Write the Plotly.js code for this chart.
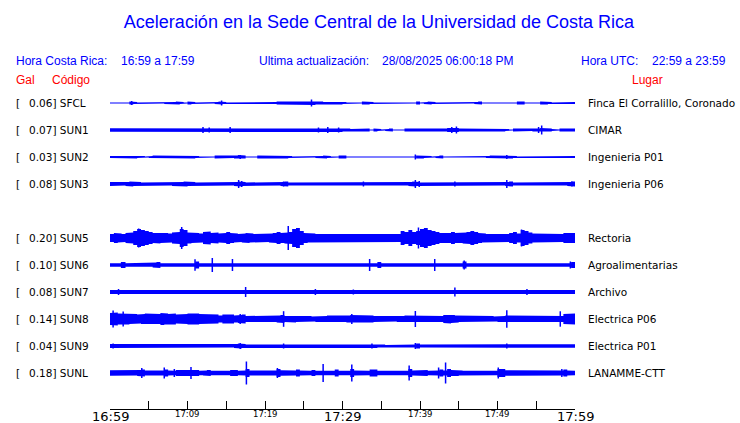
<!DOCTYPE html>
<html><head><meta charset="utf-8">
<script src="https://cdn.plot.ly/plotly-3.0.1.min.js"></script>
<style>html,body{margin:0;padding:0;background:#fff}#chart{width:740px;height:423px}</style>
</head><body><div id="chart"></div>
<script>
// ---- data ----
const codes  = ['SFCL','SUN1','SUN2','SUN3','SUN5','SUN6','SUN7','SUN8','SUN9','SUNL'];
const galMax = ['0.06','0.07','0.03','0.08','0.20','0.10','0.08','0.14','0.04','0.18'];
const places = ['Finca El Corralillo, Coronado','CIMAR','Ingenieria P01','Ingenieria P06',
                'Rectoria','Agroalimentarias','Archivo','Electrica P06','Electrica P01','LANAMME-CTT'];
const rowIndex = [0,1,2,3,5,6,7,8,9,10];   // SUN4 slot is empty
const tickMinutes = [0,5,10,15,20,25,30,35,40,45,50,55,60];
const tickLabels  = ['16:59','','17:09','','17:19','','17:29','','17:39','','17:49','','17:59'];
const tickMajor   = [true,false,false,false,false,false,true,false,false,false,false,false,true];

// envelope half-widths, one value per 30 s (120 per hour), visual units
const envSFCL = [.5,.5,1,.5,.5,1.5,1,.5,.5,1, .5,.5,1,.5,1,1,1,1.5,1,.5, 1.5,1,.5,1,.5,1,.5,1,1.5,1, .5,1,.5,.5,1,.5,.5,1,.5,.5,
 1,.5,1,1.5,1.5,1.5,1.5,1.5,1.5,1.5, 1.5,2,2,1.5,1.5,1,1.5,1,1.5,1.5, 1,.5,1,.5,.5,1.5,1.5,1,.5,1, .5,.5,1,1,1,.5,.5,1,.5,1.5,
 .5,1,1.5,1,.5,1,.5,.5,.5,.5, 1,1,.5,.5,1,1.5,.5,.5,.5,.5, .5,.5,1,1,.5,1.5,1.5,.5,1,.5, .5,1.5,1.5,1,.5,.5,1,.5,1,1];
const envSUN1 = [1.7,1.7,1.7,1.7,1.7,1.7,1.7,1.7,1.7,1.7, 1.7,1.7,1.7,1.7,1.7,1.7,1.7,1.7,1.7,1.7, 1.7,1.7,1.7,2,2,2,1.7,1.7,1.7,1.7,
 1.7,2,1.7,1.7,1.7,1.7,1.7,1.7,1.7,1.7, 1.7,1.7,1.7,1.7,1.7,1.7,1.7,1.7,1.7,1.7, 1.5,1.5,2,1.5,2,1.5,2,1.5,1.5,2,
 1.5,1.5,1,1.5,1.5,1,1.5,.5,1.5,1, .5,1,1.5,.5,1,.5,1.5,1.5,1,1.5, 1.5,1.5,1.5,1,1.5,1.5,1.5,2,2.5,2,
 1.5,1.5,1,1.5,1.5,1,1,1.5,1.5,1, 1.5,1.5,1,.5,1.5,1,1.5,1,1,1.5, 1.5,2,2,1.5,1,.5,1.5,1.5,1.5,1.5];
const envSUN2 = [1,1,1.5,1,1,1,1.5,1,1,.5, 1,1.5,1,1.5,1,1,1.5,1.5,1,1.5, 1.5,1.5,1,.5,1,1,.5,1.5,1,1, 1.5,1,1.5,2,1.5,.5,1,.5,1.5,1,
 1.5,1.5,1,1.5,1,1.5,1,.5,.5,1, .5,1,.5,1,1,1.5,1,.5,.5,1.5, 1.5,.5,.5,.5,1,1,.5,1,1,1, .5,.5,.5,.5,.5,.5,.5,.5,.5,1.5,
 1.5,1,1,.5,1,1.5,.5,1,1,.5, .5,1,.5,.5,.5,1,.5,1,1.5,1, 1.5,1,1.5,1.5,1,.5,1,.5,.5,.5, 1,.5,.5,1,.5,.5,1,.5,1,1];
const envSUN3 = [2,2,2,1.5,2,2.5,2,2,1.5,2, 2,2,1.5,1.5,2,1.5,2,2,2,2.5, 2,2,1.5,2,2,2,2,1.5,1.5,1.5, 1.5,1.5,2,2.5,2,1.5,1.5,1.5,1.5,2,
 1.5,1.5,1.5,1.5,2,2.5,1.5,1.5,1.5,1.5, 1.5,1.5,2,2,1.5,1.5,1.5,1.5,1.5,1.5, 1.5,1.5,1.5,1.5,2,2,2,1.5,1.5,1.5, 1.5,1.5,1.5,1.5,1.5,1.5,1.5,2,2.5,2,
 1.5,1.5,1.5,1.5,1.5,2,2,1.5,1.5,1.5, 2,1.5,1.5,1.5,1.5,2,1.5,1.5,1.5,1.5, 1.5,1.5,2,2.5,1.5,1.5,1.5,1.5,1.5,1.5, 1.5,1.5,2,1.5,1.5,1.5,1.5,1.5,2,2.5];
const envSUN5 = [4,5,4.5,4,5,5.5,7,9,8,7, 6,5,5.5,5,5,4.5,5.5,6,9,8, 5.5,5,5,4.5,6,6.5,5,5.5,4.5,5, 6,5,4.5,4,4.5,5,4.5,4,4.5,4,
 4,4.5,5,6,5,5.5,6,9,10,7, 5,4.5,4.5,4,4.5,4,4,4.5,4,4.5, 4,4,4,4.5,4,4,4,4,4.5,4, 4,4,4,4.5,4,7,6,8,6,7,
 9,10,8,7,6,5,5.5,5,6,5, 5,5.5,6,7,6,5,4.5,4,4.5,4, 4,4.5,4,5,6,4.5,8,7,5.5,4.5, 4,4.5,4,4.5,4.5,4,4,5,5.5,5];
const envSUN6 = [1.8,1.8,1.8,3,1.8,1.8,1.8,1.8,1.8,2.5, 1.8,2.5,3,1.8,1.8,1.8,1.8,1.8,1.8,2.5, 1.8,1.8,3.5,1.8,2.5,1.8,1.8,1.8,1.8,1.8,
 1.8,1.8,1.8,1.8,1.8,2.5,1.8,2.5,1.8,1.8, 1.8,2.5,1.8,1.8,1.8,1.8,1.8,2.5,1.8,1.8, 1.8,1.8,1.8,2.5,1.8,2.5,1.8,1.8,1.8,1.8,
 1.8,1.8,1.8,1.8,1.8,1.8,1.8,1.8,1.8,3, 1.8,1.8,1.8,1.8,2.5,1.8,1.8,1.8,2.5,1.8, 1.8,1.8,1.8,1.8,1.8,1.8,2.5,1.8,1.8,1.8,
 1.8,3.5,1.8,2.5,1.8,1.8,1.8,1.8,1.8,1.8, 1.8,2.5,1.8,1.8,1.8,1.8,2.5,1.8,2.5,1.8, 2.5,1.8,1.8,1.8,1.8,1.8,1.8,1.8,1.8,3];
const envSUN7 = [2,2,2.5,2,1.8,2,1.8,2.3,2.3,2, 2.3,2.3,2,2.3,1.8,1.8,2.3,2,2.3,2.3, 2,2.3,2,1.8,1.8,2,2.3,2,2.3,2,
 1.8,2.3,2.3,2.5,2.3,2.5,2.3,2,2.3,2, 2.3,2,2.3,2,1.8,1.8,2.3,2,1.8,1.8, 1.8,2.3,2.5,1.8,1.8,1.8,1.8,2.3,1.8,1.8,
 1.8,2,1.8,2.3,1.8,1.8,1.8,2.3,2,2.3, 2,1.8,2.3,2,2.3,2,2.3,2,2.3,1.8, 2,2,2.3,2.3,2,2,2.5,2,2.3,1.8,
 2.3,2.3,2,1.8,1.8,2,1.8,2,1.8,2, 1.8,1.8,2,2.3,2.3,1.8,1.8,2,2.3,1.8, 1.8,2,2.3,2.3,2,1.8,1.8,2.3,2,2];
const envSUN8 = [6,6.5,5.5,5,5.5,5,5,4.5,5,5.5, 5.5,5,5,6,5.5,5,5.5,4.5,5,5, 5.5,6,5.5,5,5,5,4.5,4.5,3.5,4.5, 4,4.5,3.5,4,4.5,3,3,3.5,3,3,
 3.5,3,3,3.5,4,3,3,3.5,3,3, 3,3,2.5,3,3,3,3.5,3,3.5,3, 3,3.5,4,3.5,4,3.5,4,3.5,3,3, 3,3,2.5,2.5,3,3,3.5,3.5,3,3.5,
 3,3,3,3,3,3,4,4.5,4,3.5, 3,3,3,3,3,3,3,3,3,2.5, 3,3,3.5,3,3,3,3,3,3.5,3, 3,3.5,3,3.5,3,3,3,5,5,5.5];
const envSUN9 = [2,1.5,1.5,1.5,1.5,1.5,1.5,1.5,1.5,1.5, 1.5,1.5,1.5,1.5,1.5,1.5,1.5,1.5,1.5,1.5, 1.5,1.5,1.5,1.5,1.5,1.5,1.5,1.5,1.5,1.5,
 1.5,1.5,2,2.5,2,1.5,1.5,1.5,1.5,1.5, 1.5,1.5,1.5,1.5,2,1.5,1.5,1.5,1.5,1.5, 1.5,1.5,1.5,1.5,1.5,1.8,1.5,1.5,1.5,1.5,
 1.5,1.5,1.5,1.5,1.5,1.5,1.5,1.5,2,1.5, 1.5,1,1.5,1,1.5,1,1.5,1.5,1.5,2.5, 1.5,1.5,1.5,1.5,1.5,1.5,1.5,1.5,1.5,1.5,
 1.5,1.5,1.5,1.5,1.5,1.5,1.5,1.8,1.5,1.5, 1.5,1.5,2,1.5,1.5,1.5,1.5,1.5,1.5,1.5, 1.5,1.5,1.5,1.5,1.5,1.5,1.5,1.5,1.8,1.8];
const envSUNL = [2.8,2.5,3,2.5,2.8,3,2.5,3,3.5,2.5, 2.2,2.5,2.2,2.5,3.5,2.5,2.2,3,3,3.5, 3,3.5,3,2.2,2.5,3,2.2,2.2,2.2,2.5,
 2.2,3,3,2.2,2.5,4,2.5,2.8,2.8,3, 2.8,2.8,2.5,4,2.8,2.5,2.2,2.5,3.5,2.5, 2.2,2.2,3,2.2,2.8,2.8,2.2,2.2,3.5,2.2,
 2.2,2.2,4,2.5,2.2,2.2,2.2,3.5,3.5,2.2, 2.2,2.2,2.5,2.2,2.8,2.2,2.2,4,2.5,3, 3,3,2.2,2.2,2.5,3.5,2.5,4,3,3,
 2.5,2.2,2.8,2.2,2.2,2.2,2.2,2.2,2.2,2.2, 4,4,2.8,2.2,2.5,2.8,2.2,2.2,2.2,2.5, 2.2,2.2,2.2,2.5,2.2,2.2,2.5,3.5,2.5,2.2];

// isolated peaks: [minute, half-height]
const pkSFCL = [[2.8,2],[14.4,2.5],[26.0,3.5]];
const pkSUN1 = [[12.0,3],[12.8,2.5],[15.5,3],[26.9,2.5],[28.1,3],[29.5,2.5],[44.1,3],[44.7,3.5],[55.3,3],[55.7,4.5]];
const pkSUN2 = [[16.8,2],[39.4,2.5],[51.2,2]];
const pkSUN3 = [[16.6,4],[17.0,3],[22.4,2.5],[32.7,2.5],[39.4,4],[39.9,3],[44.5,2.5],[51.2,4],[59.6,2.5]];
const pkSUN5 = [[3.7,9.5],[9.25,11],[23.0,12],[39.8,10.5],[53.1,8.5]];
const pkSUN6 = [[1.5,3],[10.97,5.8],[13.2,7],[15.8,6],[33.5,6],[41.9,6],[45.7,4.5],[59.4,3.5]];
const pkSUN7 = [[1.1,3],[17.5,5],[26.5,3],[31.4,2.5],[44.5,4.5],[53.8,3]];
const pkSUN8 = [[0.4,8.5],[1.7,7.5],[16.8,5],[22.4,7.8],[31.2,5],[39.4,8],[51.2,8.7],[58.1,7.7]];
const pkSUN9 = [[0.4,2.5],[16.8,3],[22.4,2.5],[33.8,2.5],[39.4,3],[51.2,2.5]];
const pkSUNL = [[4.1,5],[7.0,5.5],[8.3,4],[10.45,6],[17.6,11.5],[21.6,5],[27.5,9],[31.2,8.5],[38.6,7.5],[42.4,5.5],[43.3,10.5],[50.1,5.5],[58.3,4]];

const envs  = [envSFCL,envSUN1,envSUN2,envSUN3,envSUN5,envSUN6,envSUN7,envSUN8,envSUN9,envSUNL];
const peaks = [pkSFCL,pkSUN1,pkSUN2,pkSUN3,pkSUN5,pkSUN6,pkSUN7,pkSUN8,pkSUN9,pkSUNL];

// ---- layout constants (pixel frame) ----
const W = 740, H = 423, L = 110, R = 165, T = 90, B = 14;
const PW = W - L - R, PH = H - T - B;
const ROW0 = 103, ROWSTEP = 27;       // y axis runs in pixel units
const BLUE = '#0000ff', RED = '#ff0000';
const binMin = 60 / envSFCL.length;
const rowY = k => ROW0 + ROWSTEP * k;
const px2x = px => (px - L) / PW;
const px2y = py => (H - B - py) / PH;

const traces = [];
envs.forEach((env, s) => {
  const c = rowY(rowIndex[s]);
  const xs = [], ys = [];
  env.forEach((a, i) => { xs.push(i*binMin, (i+1)*binMin); ys.push(c - a, c - a); });
  for (let i = env.length - 1; i >= 0; i--) { xs.push((i+1)*binMin, i*binMin); ys.push(c + env[i], c + env[i]); }
  traces.push({type:'scatter', mode:'lines', x:xs, y:ys, fill:'toself', fillcolor:BLUE,
               line:{width:0, color:BLUE}, hoverinfo:'skip', showlegend:false});
  const sx = [], sy = [];
  peaks[s].forEach(([m,h]) => { sx.push(m, m, null); sy.push(c - h, c + h, null); });
  traces.push({type:'scatter', mode:'lines', x:sx, y:sy, line:{width:1.5, color:BLUE},
               hoverinfo:'skip', showlegend:false});
});

const ann = [];
function txt(text, px, py, font, anchor) {
  ann.push({text, xref:'paper', yref:'paper', x:px2x(px), y:px2y(py), xanchor:anchor||'left',
            yanchor:'middle', showarrow:false, borderpad:0, font});
}
const hFont = {family:'Liberation Sans, Arial, sans-serif', size:12, color:BLUE};
const rFont = {family:'Liberation Sans, Arial, sans-serif', size:12, color:RED};
const lFont = {family:'DejaVu Sans, sans-serif', size:10.5, color:'#000'};
txt('Hora Costa Rica:', 15, 61, hFont);
txt('16:59 a 17:59', 120, 61, hFont);
txt('Ultima actualización:', 258, 61, hFont);
txt('28/08/2025 06:00:18 PM', 381, 61, hFont);
txt('Hora UTC:', 580, 61, hFont);
txt('22:59 a 23:59', 651, 61, hFont);
txt('Gal', 15, 80, rFont);
txt('Código', 51, 80, rFont);
txt('Lugar', 631, 80, rFont);
codes.forEach((code, s) => {
  const py = rowY(rowIndex[s]);
  txt('[', 15, py, lFont);
  txt(galMax[s] + '] ' + code, 28, py, lFont);
  txt(places[s], 587, py, lFont);
});
tickMinutes.forEach((m, i) => {
  if (!tickLabels[i]) return;
  ann.push({text:tickLabels[i], xref:'x', yref:'paper', x:m, y:px2y(tickMajor[i] ? 416.5 : 413.5),
            xanchor:'center', yanchor:'middle', showarrow:false, borderpad:0,
            font:{family:'DejaVu Sans, sans-serif', size: tickMajor[i] ? 13 : 8.5, color:'#000'}});
});

const layout = {
  width:W, height:H, margin:{l:L, r:R, t:T, b:B, pad:0},
  paper_bgcolor:'#fff', plot_bgcolor:'#fff', showlegend:false,
  title:{text:'Aceleración en la Sede Central de la Universidad de Costa Rica',
         font:{family:'Liberation Sans, Arial, sans-serif', size:18, color:BLUE},
         xref:'container', yref:'container', x:379/W, y:1-22/H, xanchor:'center', yanchor:'middle'},
  xaxis:{range:[0,60], showgrid:false, zeroline:false, showline:true, linecolor:'#000', linewidth:1,
         ticks:'inside', ticklen:8, tickwidth:1, tickcolor:'#000', tickvals:tickMinutes,
         showticklabels:false, fixedrange:true},
  yaxis:{range:[H-B, T], autorange:false, visible:false, showgrid:false, zeroline:false, fixedrange:true},
  annotations:ann
};
Plotly.newPlot('chart', traces, layout, {staticPlot:true, displayModeBar:false});
</script></body></html>
